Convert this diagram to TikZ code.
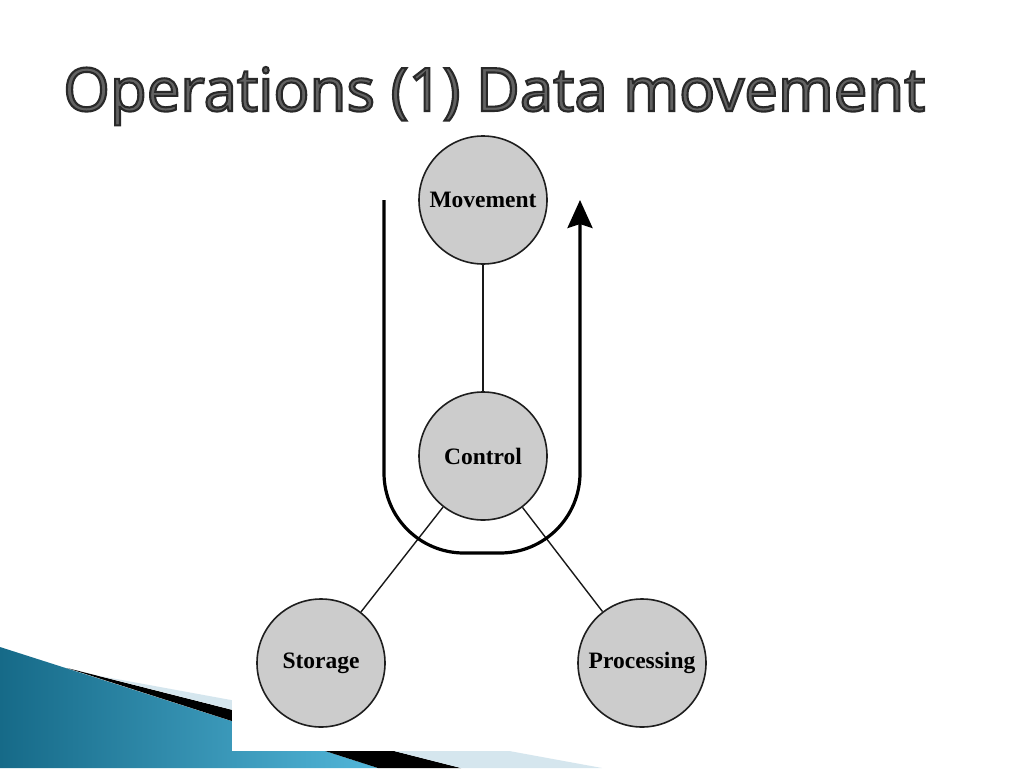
\documentclass[tikz,border=0pt]{standalone}
\usepackage{fontspec}
\setmainfont{Liberation Serif}
\newfontfamily\titlefont{Open Sans}
\usetikzlibrary{arrows.meta}
\definecolor{circfill}{HTML}{CCCCCC}
\definecolor{circline}{HTML}{1E1E1E}
\definecolor{bluedark}{HTML}{166A88}
\definecolor{bluelight}{HTML}{52B6D9}
\definecolor{palestripe}{HTML}{D5E6EE}
\definecolor{titlegray}{HTML}{626262}
\newcommand{\myoutline}{\special{pdf:literal direct 2 Tr 2.1 w 0.16 0.16 0.16 RG}}
\tikzset{
  unit/.style={circle, draw=circline, line width=1.6pt, fill=circfill,
    minimum size=128pt, inner sep=0pt,
    font=\fontsize{23.5}{23.5}\selectfont\bfseries},
  link/.style={draw=black!90, line width=1.4pt},
  flow/.style={draw=black, line width=3.2pt, rounded corners=80pt,
    -{Stealth[length=28pt,width=25pt,inset=4pt]}},
  titletext/.style={anchor=base west, inner sep=0pt, text=titlegray,
    font=\titlefont\fontsize{60}{60}\selectfont}
}
\begin{document}
\begin{tikzpicture}[x=1pt,y=-1pt]
\useasboundingbox (0,0) rectangle (1024,768);
\fill[white] (0,0) rectangle (1024,768);
% decoration bottom-left
\shade[left color=bluedark, right color=bluelight] (0,647) -- (378,768) -- (0,768) -- cycle;
\fill[black] (67,668) -- (378,768) -- (461,768) -- cycle;
\fill[palestripe] (100,676) -- (461,768) -- (602,768) -- cycle;
% inserted picture
\fill[white] (232,135) rectangle (722,751);
% title
\node[titletext] (title) at (63,111) {\myoutline Operations (1) Data movement};
% units
\node[unit] (mov) at (483,200) {Movement};
\node[unit] (ctl) at (483,456) {Control};
\node[unit] (sto) at (321,663) {Storage};
\node[unit] (pro) at (642,663) {Processing};
\draw[link] (mov) -- (ctl);
\draw[link] (ctl) -- (sto);
\draw[link] (ctl) -- (pro);
% flow path
\coordinate (utl) at (384,200);
\coordinate (ubl) at (384,553);
\coordinate (ubr) at (580,553);
\coordinate (utr) at (580,200);
\draw[flow] (utl) -- (ubl) -- (ubr) -- (utr);
\end{tikzpicture}
\end{document}
